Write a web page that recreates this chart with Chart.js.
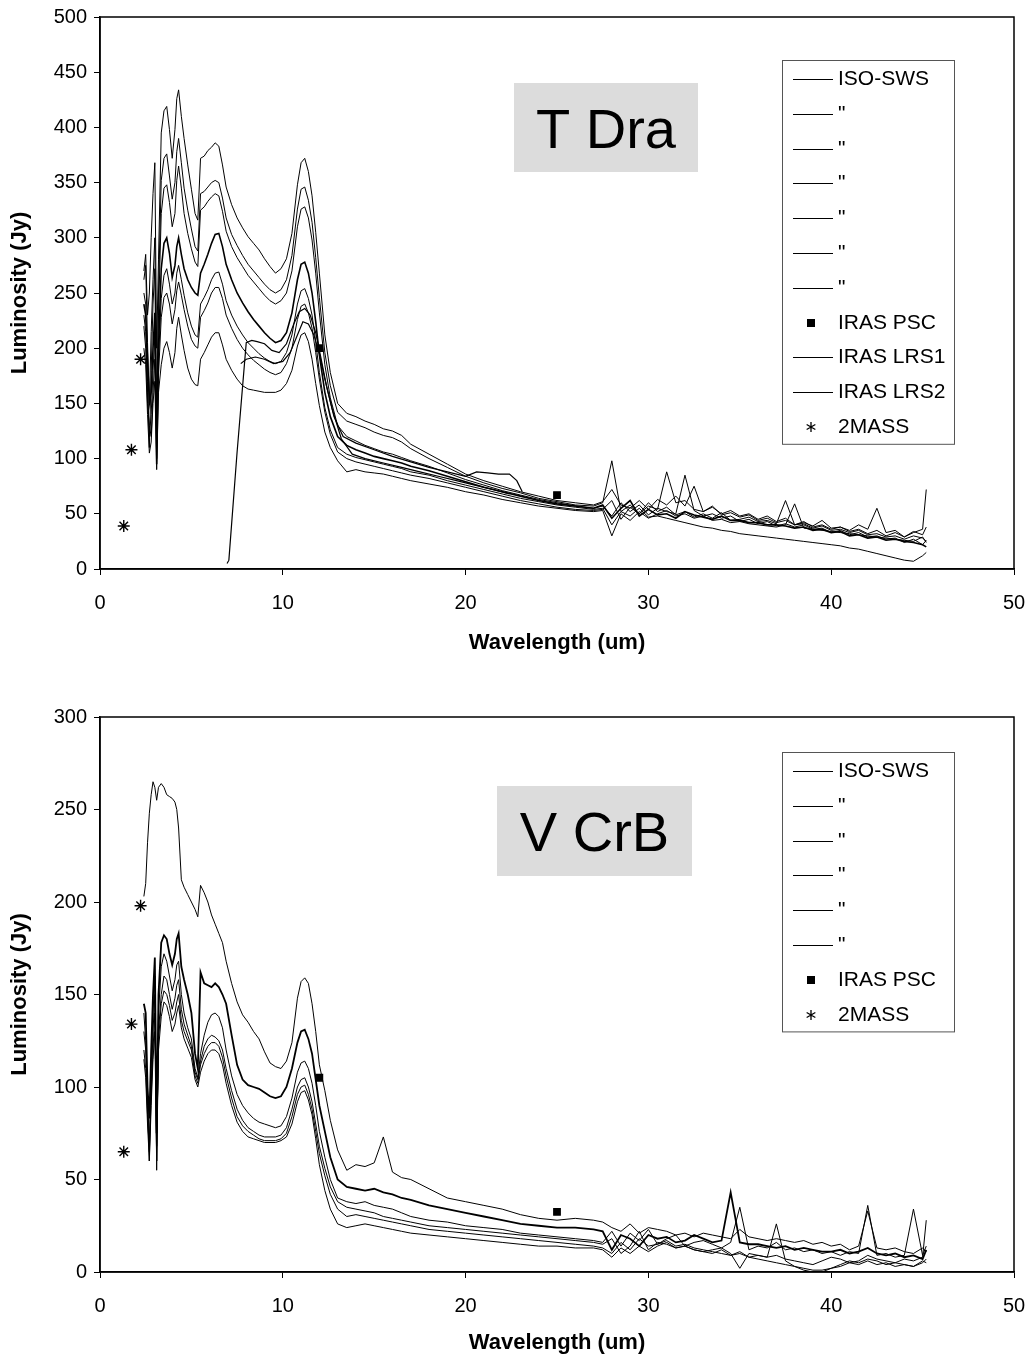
<!DOCTYPE html>
<html>
<head>
<meta charset="utf-8">
<title>T Dra / V CrB spectra</title>
<script src="https://cdn.jsdelivr.net/npm/chart.js@4.4.0/dist/chart.umd.min.js"></script>
<style>
  body { margin: 0; background: #fff; }
  canvas { position: absolute; left: 0; }
</style>
</head>
<body>
<canvas id="tdraChart" width="1030" height="680" style="top:0"></canvas>
<canvas id="vcrbChart" width="1030" height="682" style="top:680px"></canvas>
<script>
// Wavelength grid (um) shared by every ISO-SWS spectrum
const isoWave = [
  2.4, 2.5, 2.6, 2.7, 2.8, 2.9, 3.0, 3.1, 3.2,
  3.35, 3.5, 3.65, 3.8, 3.95,
  4.1, 4.2, 4.3, 4.45, 4.6, 4.8, 5.0, 5.2, 5.35, 5.5,
  5.7, 5.9, 6.1, 6.3, 6.5, 6.7, 6.9,
  7.2, 7.5, 7.8, 8.1, 8.4, 8.7, 9.0, 9.3, 9.6, 9.9,
  10.2, 10.5, 10.8, 11.0, 11.2, 11.4, 11.6, 11.8, 12.0,
  12.3, 12.6, 13.0, 13.5, 14.0, 14.5, 15.0, 15.5, 16.0, 16.5, 17.0,
  18, 19, 20, 21, 22, 23, 24, 25, 26, 27,
  27.5, 28.0, 28.5, 29.0, 29.5, 30.0,
  30.5, 31.0, 31.5, 32.0, 32.5, 33.0, 33.5, 34.0, 34.5, 35.0,
  35.5, 36.0, 36.5, 37.0, 37.5, 38.0, 38.5, 39.0, 39.5, 40.0,
  40.5, 41.0, 41.5, 42.0, 42.5, 43.0, 43.5, 44.0, 44.5, 45.0, 45.2
];

// ---- T Dra (Jy) ----
const tdraIso1 = [
  270, 285, 230, 250, 300, 340, 368, 200, 280,
  395, 415, 419, 398, 372,
  398, 426, 434, 410, 390, 366, 344, 322, 316, 372,
  374, 379, 382, 386, 383, 366, 346,
  330, 318, 309, 301, 295, 289, 281, 274, 268, 272,
  281, 304, 348, 368, 372, 360, 338, 305, 268,
  212, 178, 150, 141, 138, 134, 131, 127, 125, 121, 113,
  104, 95, 86, 80, 75, 70, 66, 62, 60, 58,
  61, 72, 58, 55, 62, 54,
  63, 58, 66, 57, 75, 52, 56, 50, 53, 48,
  50, 45, 48, 43, 46, 40, 43, 38, 40, 36,
  38, 34, 36, 32, 35, 30, 33, 29, 34, 31, 38
];
const tdraIso2 = [
  262, 275, 205, 150, 215, 262, 300, 140, 250,
  352, 372, 376, 356, 335,
  350, 378, 390, 368, 345, 325, 308, 292, 288, 340,
  342, 346, 350, 352, 350, 336, 318,
  303, 293, 284, 276, 270, 264, 258, 253, 250, 253,
  262, 284, 326, 344, 346, 334, 314, 282, 246,
  196, 166, 142, 134, 131, 128, 124, 121, 119, 115, 109,
  100, 92, 84, 78, 73, 69, 64, 61, 58, 57,
  60, 98, 52, 58, 50, 57,
  54, 88, 60, 62, 54, 52, 57, 49, 51, 47,
  49, 44, 46, 42, 44, 40, 41, 37, 39, 35,
  36, 33, 35, 31, 32, 29, 30, 27, 30, 28, 25
];
const tdraIso3 = [
  250, 240, 170, 110, 180, 240, 272, 110, 230,
  322, 345, 348, 332, 310,
  322, 352, 365, 345, 322, 304, 290, 278, 274, 325,
  328, 333, 337, 340, 338, 324, 306,
  292, 282, 274, 266, 260, 254, 248, 243, 240, 243,
  250, 270, 310, 326, 328, 318, 298, 268, 232,
  185, 155, 130, 120, 116, 112, 109, 106, 104, 101, 98,
  93, 87, 81, 76, 71, 67, 63, 60, 57, 55,
  57, 48, 60, 52, 58, 49,
  55, 52, 50, 85, 53, 48, 50, 46, 48, 43,
  45, 41, 43, 39, 41, 38, 40, 36, 37, 33,
  35, 31, 33, 29, 30, 27, 28, 24, 27, 22, 26
];
const tdraIso4 = [
  240, 230, 190, 150, 160, 200, 232, 95, 200,
  272, 295, 300, 286, 264,
  275, 292, 300, 285, 272, 262, 255, 250, 248, 268,
  276, 285, 295, 303, 304, 292, 276,
  262, 250, 241, 233, 226, 220, 214, 209, 205, 207,
  214, 232, 262, 276, 278, 268, 250, 224, 194,
  160, 138, 120, 112, 108, 105, 102, 100, 98, 96, 93,
  89, 84, 79, 74, 70, 66, 62, 59, 57, 55,
  58, 46, 55, 62, 48, 54,
  49, 50, 46, 52, 49, 47, 45, 48, 44, 44,
  42, 42, 40, 40, 39, 37, 38, 35, 36, 33,
  34, 30, 31, 28, 29, 26, 27, 25, 24, 22, 20
];
const tdraIso5 = [
  230, 215, 160, 120, 140, 180, 210, 130, 190,
  245, 266, 272, 258, 240,
  250, 268, 275, 262, 248, 232, 220, 212, 210, 240,
  246, 253, 262, 268, 269, 258, 243,
  230, 220, 212, 205, 200, 195, 191, 188, 186, 188,
  196, 212, 240, 252, 254, 245, 230, 206, 178,
  146, 126, 110, 104, 101, 99, 97, 95, 93, 91, 88,
  85, 80, 76, 72, 68, 64, 61, 58, 56, 54,
  55, 40, 52, 48, 55, 47,
  48, 46, 44, 42, 40, 38, 37, 35, 34, 32,
  31, 30, 29, 28, 27, 26, 25, 24, 23, 22,
  21, 19, 18, 16, 14, 12, 10, 8, 7, 12, 15
];
const tdraIso6 = [
  220, 200, 150, 130, 120, 160, 190, 100, 175,
  228, 246, 250, 240, 222,
  235, 252, 260, 248, 235, 220, 208, 202, 200, 228,
  234, 241, 250, 255, 255, 245, 230,
  218, 208, 200, 194, 189, 185, 181, 178, 176, 178,
  186, 200, 226, 238, 240, 232, 218, 196, 172,
  142, 122, 106, 100, 97, 95, 93, 91, 89, 87, 85,
  82, 78, 74, 70, 66, 62, 59, 56, 54, 53,
  54, 62, 45, 56, 50, 60,
  52, 56, 49, 52, 47, 50, 46, 51, 44, 45,
  47, 43, 44, 41, 62, 40, 42, 39, 44, 37,
  38, 35, 40, 36, 55, 33, 35, 29, 33, 36, 72
];
const tdraIso7 = [
  200, 185, 140, 105, 115, 150, 170, 90, 160,
  185, 200, 206, 196, 182,
  196, 218, 228, 212, 198, 182, 172, 167, 166, 190,
  196, 203, 210, 214, 214, 203, 190,
  180, 172, 166, 163, 162, 161, 160, 160, 160, 162,
  168, 180, 202, 212, 214, 206, 190, 168, 148,
  124, 110, 98, 88, 90, 88, 87, 86, 84, 82, 80,
  77, 74, 70, 67, 63, 60, 57, 55, 53, 52,
  53, 30, 50, 44, 52, 46,
  50, 53, 48, 50, 46, 48, 44, 45, 42, 43,
  41, 40, 39, 38, 40, 59, 37, 36, 35, 34,
  33, 32, 31, 30, 29, 28, 27, 26, 25, 29, 24
];
const lrs1Wave = [6.95, 7.05, 7.5, 8.0, 8.3, 8.6, 9.0, 9.4, 9.8, 10.2, 10.6, 10.9, 11.2, 11.5, 11.8,
  12.1, 12.4, 12.8, 13.3, 14.0, 15.0, 16.0, 17.0, 18.0, 19.0, 20.0, 20.6, 21.2, 21.8, 22.4, 22.8, 23.1];
const lrs1Flux = [5, 8, 106, 205, 207, 206, 204, 198, 196, 204, 222, 233, 236, 230, 214,
  190, 165, 138, 120, 114, 108, 102, 97, 92, 88, 84, 88, 87, 86, 86, 80, 70];
const lrs2Wave = [7.7, 8.0, 8.5, 9.0, 9.5, 10.0, 10.4, 10.8, 11.1, 11.4, 11.7, 12.0, 12.3, 12.7,
  13.2, 13.8, 14.5, 15.5, 16.5, 17.5, 18.5, 19.5, 20.5, 21.5, 22.4];
const lrs2Flux = [186, 190, 192, 190, 186, 188, 196, 212, 224, 222, 212, 195, 172, 145,
  118, 104, 100, 96, 92, 88, 84, 80, 76, 72, 68];
const tdraPscWave = [12, 25];
const tdraPscFlux = [200, 67];
const tdraMassWave = [1.3, 1.72, 2.22];
const tdraMassFlux = [39, 108, 190];

// ---- V CrB (Jy) ----
const vcrbIso1 = [
  203, 210, 232, 248, 258, 265, 262, 255, 262,
  264, 262, 258, 257, 256,
  254, 250, 240, 212, 208, 204, 200, 196, 192, 209,
  205, 200, 193, 188, 183, 178, 168,
  156, 146, 139, 135, 130, 126, 119, 113, 111, 110,
  114, 124, 148, 157, 159, 156, 145, 130, 112,
  98, 82, 66, 55, 58, 57, 59, 73, 54, 51, 50,
  45, 40, 38, 36, 34, 31, 29, 28, 29, 28,
  27, 24, 22, 26, 21, 24,
  23, 22, 20, 21, 19, 21, 20, 19, 18, 23,
  19, 18, 17, 18, 17, 16, 17, 15, 16, 14,
  15, 12, 14, 33, 13, 12, 13, 11, 10, 13, 11
];
const vcrbIso2 = [
  145, 140, 100, 83, 120, 150, 170, 75, 150,
  178, 182, 180, 172, 166,
  172, 180, 183, 165, 158, 150, 140, 118, 110, 162,
  156, 155, 154, 156, 154, 150, 145,
  128, 112, 104, 101, 100, 99, 97, 95, 94, 95,
  100, 110, 124, 130, 131, 126, 118, 104, 90,
  76, 62, 50, 46, 45, 44, 45, 43, 42, 40, 39,
  36, 34, 32, 30, 28, 26, 25, 24, 24, 23,
  22, 12, 20, 18, 14, 20,
  18, 19, 16, 17, 20, 18, 16, 17, 43, 16,
  15, 15, 14, 13, 14, 12, 13, 12, 11, 11,
  12, 10, 11, 13, 10, 9, 10, 8, 9, 7, 12
];
const vcrbIso3 = [
  140, 125, 90, 60, 110, 140, 160, 55, 140,
  165, 172, 168, 160, 152,
  158, 166, 168, 150, 140, 132, 126, 110, 105, 118,
  128, 135, 139, 140, 138, 132, 120,
  106, 96, 90, 86, 83, 81, 80, 79, 78, 79,
  84, 94, 108, 113, 114, 110, 102, 90, 76,
  62, 50, 40, 38, 37, 38, 36, 35, 34, 32, 30,
  28, 27, 25, 24, 23, 21, 20, 19, 18, 17,
  16, 22, 14, 21, 17, 23,
  15, 18, 20, 14, 16, 17, 15, 13, 16, 35,
  12, 14, 13, 16, 12, 13, 11, 12, 10, 11,
  9, 11, 10, 36, 9, 10, 8, 9, 34, 9, 14
];
const vcrbIso4 = [
  130, 120, 95, 70, 100, 130, 150, 60, 130,
  150, 160, 158, 150, 142,
  148, 155, 158, 142, 134, 128, 122, 108, 104, 114,
  122, 126, 128, 127, 125, 120, 110,
  98, 88, 82, 78, 76, 74, 73, 73, 73, 74,
  78, 88, 100, 104, 105, 100, 92, 80, 68,
  56, 46, 38, 35, 34, 33, 32, 30, 29, 28, 27,
  25, 24, 23, 22, 21, 20, 19, 18, 17, 16,
  15, 18, 10, 14, 22, 12,
  16, 15, 13, 14, 12, 11, 12, 13, 10, 2,
  10, 9, 8, 9, 7, 6, 5, 4, 6, 8,
  7, 5, 6, 9, 7, 6, 5, 7, 6, 8, 28
];
const vcrbIso5 = [
  120, 110, 85, 65, 95, 120, 140, 68, 125,
  145, 152, 150, 144, 136,
  140, 146, 150, 136, 130, 125, 120, 106, 102, 112,
  118, 122, 124, 124, 122, 116, 106,
  94, 84, 79, 76, 74, 72, 71, 71, 71, 72,
  75, 84, 96, 100, 101, 96, 88, 76, 64,
  52, 42, 34, 30, 31, 30, 29, 28, 27, 26, 25,
  23, 22, 21, 20, 19, 18, 17, 16, 15, 14,
  13, 10, 16, 12, 18, 14,
  15, 17, 14, 15, 13, 12, 11, 10, 9, 11,
  8, 9, 8, 26, 6, 3, 1, 0, 0, 2,
  4, 6, 5, 7, 6, 4, 5, 4, 3, 6, 5
];
const vcrbIso6 = [
  115, 105, 80, 60, 90, 115, 130, 60, 120,
  138, 146, 144, 138, 130,
  134, 140, 144, 132, 126, 121, 116, 104, 100, 108,
  114, 118, 120, 120, 118, 112, 102,
  90, 81, 76, 73, 72, 71, 70, 70, 70, 71,
  73, 80, 92, 97, 98, 93, 85, 72, 58,
  44, 34, 26, 24, 25, 26, 25, 24, 23, 22, 21,
  20, 19, 18, 17, 16, 15, 14, 14, 13, 13,
  12, 8, 13, 10, 14, 11,
  14, 16, 13, 14, 12, 11, 10, 12, 9, 10,
  8, 7, 6, 5, 4, 3, 2, 1, 1, 2,
  3, 5, 4, 6, 4, 5, 3, 4, 3, 5, 7
];
const vcrbPscWave = [12, 25];
const vcrbPscFlux = [105, 32.5];
const vcrbMassWave = [1.3, 1.72, 2.22];
const vcrbMassFlux = [65, 134, 198];

const isoLabels = ['ISO-SWS', '"', '"', '"', '"', '"', '"'];
const xTicks = [0, 10, 20, 30, 40, 50];
const FONT = '"Liberation Sans", Arial, Helvetica, sans-serif';

Chart.defaults.font.family = FONT;
Chart.defaults.color = '#000';

const pts = (xs, ys) => xs.map((x, i) => ({ x: x, y: ys[i] }));

function spectrum(label, wave, flux, width) {
    return {
        label: label, data: pts(wave, flux), showLine: true,
        borderColor: '#000', backgroundColor: '#000', borderWidth: width || 1,
        pointRadius: 0, kind: 'line'
    };
}
function marker(label, wave, flux, style, r) {
    return {
        label: label, data: pts(wave, flux), showLine: false,
        pointStyle: style, pointRadius: r, pointHoverRadius: r,
        backgroundColor: '#000', borderColor: '#000', borderWidth: 1.4, kind: style
    };
}

// plot frame, star name tag and boxed legend inside the plot area
const framePlugin = {
    id: 'frame',
    afterDraw(chart, args, opts) {
        const ctx = chart.ctx, a = chart.chartArea;
        ctx.save();
        ctx.strokeStyle = '#000';
        ctx.lineWidth = 1.5;
        ctx.strokeRect(a.left, a.top, a.right - a.left, a.bottom - a.top);

        const t = opts.tag;
        const tx = a.left + t.dx, ty = a.top + t.dy;
        ctx.fillStyle = '#dcdcdc';
        ctx.fillRect(tx, ty, t.w, t.h);
        ctx.fillStyle = '#000';
        ctx.font = '56px ' + FONT;
        ctx.textAlign = 'center';
        ctx.textBaseline = 'alphabetic';
        ctx.fillText(t.text, tx + t.w / 2, ty + t.h / 2 + 20);

        const lg = opts.legend;
        const items = chart.data.datasets;
        const step = 34.8;
        const lx = a.right - lg.dxRight, ly = a.top + lg.dy;
        const lw = 172, lh = items.length * step + 1;
        ctx.fillStyle = '#fff';
        ctx.fillRect(lx, ly, lw, lh);
        ctx.strokeStyle = '#555';
        ctx.lineWidth = 1;
        ctx.strokeRect(lx + 0.5, ly + 0.5, lw, lh);
        ctx.font = '21px ' + FONT;
        ctx.textAlign = 'left';
        ctx.textBaseline = 'middle';
        items.forEach((ds, i) => {
            const y = Math.round(ly + 19 + i * step);
            ctx.strokeStyle = '#000';
            ctx.fillStyle = '#000';
            if (ds.kind === 'line') {
                ctx.lineWidth = 1;
                ctx.beginPath();
                ctx.moveTo(lx + 11, y + 0.5);
                ctx.lineTo(lx + 51, y + 0.5);
                ctx.stroke();
            } else if (ds.kind === 'rect') {
                ctx.fillRect(lx + 25, y - 4, 8, 8);
            } else {
                const cx = lx + 29, r = 5;
                ctx.lineWidth = 1.3;
                ctx.beginPath();
                ctx.moveTo(cx, y - r); ctx.lineTo(cx, y + r);
                ctx.moveTo(cx - r * 0.87, y - r / 2); ctx.lineTo(cx + r * 0.87, y + r / 2);
                ctx.moveTo(cx - r * 0.87, y + r / 2); ctx.lineTo(cx + r * 0.87, y - r / 2);
                ctx.stroke();
            }
            ctx.fillText(ds.label, lx + 56, y);
        });
        ctx.restore();
    }
};

function scales(yMax, axisHeight, titleBottom) {
    return {
        x: {
            type: 'linear', min: 0, max: 50,
            afterBuildTicks: s => { s.ticks = xTicks.map(v => ({ value: v })); },
            ticks: { padding: 16, font: { size: 20 }, color: '#000' },
            grid: { drawOnChartArea: false, tickLength: 6, color: '#000' },
            border: { color: '#000', width: 1.5 },
            title: { display: true, text: 'Wavelength (um)', font: { size: 22, weight: 'bold' },
                     padding: { top: 0, bottom: titleBottom } },
            afterFit: s => { s.height = axisHeight; s.paddingLeft = 0; s.paddingRight = 0; }
        },
        y: {
            type: 'linear', min: 0, max: yMax,
            ticks: { stepSize: 50, padding: 7, font: { size: 20 }, color: '#000' },
            grid: { drawOnChartArea: false, tickLength: 6, color: '#000' },
            border: { color: '#000', width: 1.5 },
            title: { display: true, text: 'Luminosity (Jy)', font: { size: 22, weight: 'bold' },
                     padding: { top: 7, bottom: 0 } },
            afterFit: s => { s.width = 100; s.paddingTop = 0; s.paddingBottom = 0; }
        }
    };
}

function baseOptions(yMax, padTop, axisHeight, titleBottom, frame) {
    return {
        responsive: false, animation: false, devicePixelRatio: 1,
        layout: { padding: { top: padTop, right: 16, bottom: 0, left: 0 } },
        scales: scales(yMax, axisHeight, titleBottom),
        plugins: { legend: { display: false }, tooltip: { enabled: false }, frame: frame }
    };
}

const tdraSets = [tdraIso1, tdraIso2, tdraIso3, tdraIso4, tdraIso5, tdraIso6, tdraIso7]
    .map((f, i) => spectrum(isoLabels[i], isoWave, f, i === 3 ? 1.6 : 1));
tdraSets.push(marker('IRAS PSC', tdraPscWave, tdraPscFlux, 'rect', 4.5));
tdraSets.push(spectrum('IRAS LRS1', lrs1Wave, lrs1Flux, 1.2));
tdraSets.push(spectrum('IRAS LRS2', lrs2Wave, lrs2Flux, 1.2));
tdraSets.push(marker('2MASS', tdraMassWave, tdraMassFlux, 'star', 6));

new Chart(document.getElementById('tdraChart'), {
    type: 'scatter',
    data: { datasets: tdraSets },
    options: baseOptions(500, 17, 111, 24, {
        tag: { text: 'T Dra', dx: 414, dy: 66, w: 184, h: 89 },
        legend: { dxRight: 232, dy: 43 }
    }),
    plugins: [framePlugin]
});

const vcrbSets = [vcrbIso1, vcrbIso2, vcrbIso3, vcrbIso4, vcrbIso5, vcrbIso6]
    .map((f, i) => spectrum(isoLabels[i], isoWave, f, i === 1 ? 1.8 : 1));
vcrbSets.push(marker('IRAS PSC', vcrbPscWave, vcrbPscFlux, 'rect', 4.5));
vcrbSets.push(marker('2MASS', vcrbMassWave, vcrbMassFlux, 'star', 6));

new Chart(document.getElementById('vcrbChart'), {
    type: 'scatter',
    data: { datasets: vcrbSets },
    options: baseOptions(300, 37, 90, 6, {
        tag: { text: 'V CrB', dx: 397, dy: 69, w: 195, h: 90 },
        legend: { dxRight: 232, dy: 35 }
    }),
    plugins: [framePlugin]
});
</script>
</body>
</html>
